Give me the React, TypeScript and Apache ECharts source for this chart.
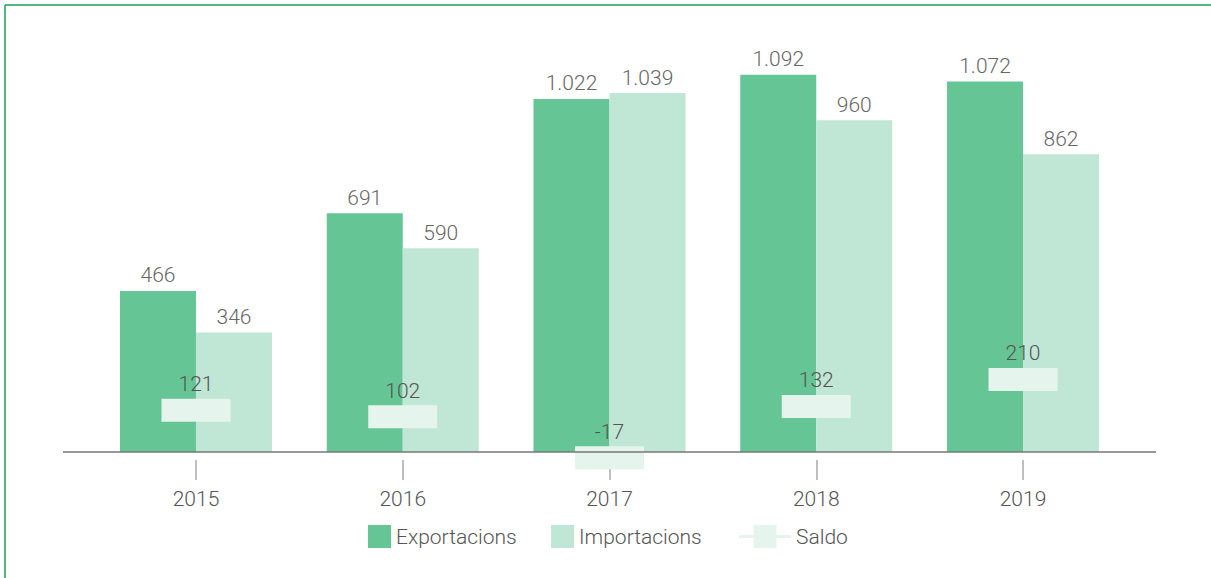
import React, { useEffect, useRef } from "react";
import * as echarts from "echarts";

const years = ["2015", "2016", "2017", "2018", "2019"];
const exportacions = [466, 691, 1022, 1092, 1072];
const importacions = [346, 590, 1039, 960, 862];
const saldo = [121, 102, -17, 132, 210];

const FONT = "Roboto";
const fmt = (v: number) => {
  const s = Math.abs(v).toString().replace(/\B(?=(\d{3})+(?!\d))/g, ".");
  return (v < 0 ? "-" : "") + s;
};

export default function App() {
  const ref = useRef<HTMLDivElement>(null);
  useEffect(() => {
    if (!ref.current) return;
    const chart = echarts.init(ref.current, null, { renderer: "svg" });
    const textBase = { fontFamily: FONT, fontWeight: 300 as any, fontSize: 21 };
    const legendText = { ...textBase, color: "#555555", padding: [14, 0, 0, 0] };
    chart.setOption({
      animation: false,
      backgroundColor: "#ffffff",
      grid: { left: 92.6, right: 84.6, top: 37.4, bottom: 91.45 },
      xAxis: {
        type: "category",
        data: years,
        axisLine: { show: false, onZero: false },
        offset: -26.55,
        axisTick: { show: true, alignWithLabel: true, length: 20, lineStyle: { color: "#aaaaaa", width: 1.5 } },
        axisLabel: { ...textBase, color: "#555555", margin: 28 },
        splitLine: { show: false },
      },
      yAxis: {
        type: "value",
        min: -100,
        max: 1200,
        show: false,
        splitLine: { show: false },
      },
      legend: [
        {
          data: ["Exportacions"],
          left: 368,
          top: 525,
          padding: 0,
          itemWidth: 23,
          itemHeight: 23,
          icon: "rect",
          textStyle: legendText,
        },
        {
          data: ["Importacions"],
          left: 551,
          top: 525,
          padding: 0,
          itemWidth: 23,
          itemHeight: 23,
          icon: "rect",
          textStyle: legendText,
        },
        {
          data: [
            {
              name: "Saldo",
              icon: "path://M0,10L52,10L52,13L0,13Z M14.5,0L37.5,0L37.5,23L14.5,23Z",
            },
          ],
          left: 739,
          top: 525,
          padding: 0,
          itemWidth: 52,
          itemHeight: 23,
          textStyle: legendText,
        },
      ],
      series: [
        {
          name: "Exportacions",
          type: "bar",
          data: exportacions,
          barWidth: 76,
          barGap: "0%",
          itemStyle: { color: "#66c594" },
          label: {
            show: true,
            position: "top",
            distance: 5,
            ...textBase,
            color: "#666666",
            formatter: (p: any) => fmt(p.value),
          },
        },
        {
          name: "Importacions",
          type: "bar",
          data: importacions,
          barWidth: 76,
          barGap: "0%",
          itemStyle: { color: "#c0e6d5" },
          label: {
            show: true,
            position: "top",
            distance: 5,
            ...textBase,
            color: "#666666",
            formatter: (p: any) => fmt(p.value),
          },
        },
        {
          name: "Saldo",
          type: "line",
          data: saldo,
          clip: false,
          symbol: "rect",
          symbolSize: [69, 23],
          lineStyle: { opacity: 0, width: 0 },
          itemStyle: { color: "#e6f4ee" },
          z: 5,
          label: {
            show: true,
            position: "top",
            distance: 4,
            ...textBase,
            color: "#555555",
            formatter: (p: any) => fmt(p.value),
          },
        },
      ],
      graphic: [
        {
          type: "line",
          shape: { x1: 63, y1: 452, x2: 1156, y2: 452 },
          style: { stroke: "#777777", lineWidth: 1.5 },
          z: 10,
        },
        {
          type: "line",
          shape: { x1: 5, y1: 5, x2: 1211, y2: 5 },
          style: { stroke: "#1a9e5a", lineWidth: 1.5 },
        },
        {
          type: "line",
          shape: { x1: 5, y1: 5, x2: 5, y2: 578 },
          style: { stroke: "#1a9e5a", lineWidth: 1.5 },
        },
      ],
    });
    return () => chart.dispose();
  }, []);
  return (
    <div
      ref={ref}
      style={{ position: "absolute", left: 0, top: 0, width: 1211, height: 578 }}
    />
  );
}
